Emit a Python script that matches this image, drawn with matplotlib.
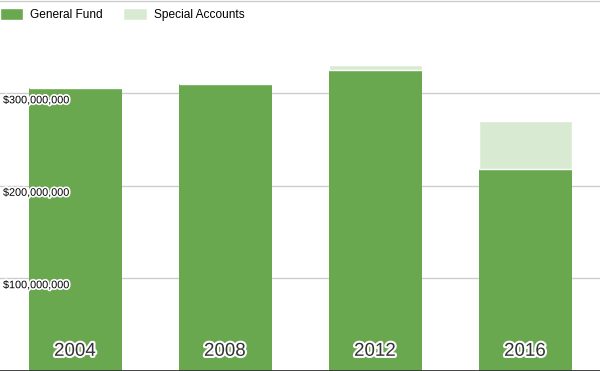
import matplotlib.pyplot as plt
import matplotlib.patheffects as pe
from matplotlib.transforms import blended_transform_factory
from matplotlib.patches import Patch

plt.rcParams['font.family'] = ['Liberation Sans', 'DejaVu Sans']

# budget by year (dollars)
years = ["2004", "2008", "2012", "2016"]
general_fund = [306e6, 310e6, 325e6, 218e6]
special_accounts = [0, 0, 6e6, 52e6]
tick_values = [100e6, 200e6, 300e6]
tick_labels = ["$100,000,000", "$200,000,000", "$300,000,000"]

green = "#6aa84f"
light_green = "#d9ead3"

fig = plt.figure(figsize=(6, 3.71), dpi=100)
ax = fig.add_axes([0, 0, 1, 1])

x = list(range(len(years)))
ax.bar(x, general_fund, width=0.62, color=green, zorder=2)
ax.bar(x, special_accounts, width=0.62, bottom=general_fund, color=light_green,
       edgecolor="white", linewidth=1, zorder=2)

# gridlines
for v in tick_values + [400e6]:
    ax.axhline(v, color="#cccccc", lw=1, zorder=1)
ax.axhline(0, color="#333333", lw=2, zorder=3)

ax.set_xlim(-0.5, 3.5)
ax.set_ylim(-0.3e6, 401e6)
ax.axis("off")

# y labels drawn inside the plot, just under each gridline
trans = blended_transform_factory(ax.transAxes, ax.transData)
stroke = [pe.withStroke(linewidth=2.5, foreground="white")]
for v, lab in zip(tick_values, tick_labels):
    ax.text(0.005, v - 7.5e6, lab, transform=trans, fontsize=7.8, color="black",
            ha="left", va="center", path_effects=stroke, zorder=4)

# year labels at the bottom of the bars
trans2 = blended_transform_factory(ax.transData, ax.transAxes)
for i, yr in enumerate(years):
    ax.text(i, 0.053, yr, transform=trans2, fontsize=13.5, color="#333333",
            ha="center", va="center",
            path_effects=[pe.withStroke(linewidth=3, foreground="white")], zorder=4)

handles = [Patch(facecolor=green, edgecolor="white", label="General Fund"),
           Patch(facecolor=light_green, edgecolor="white", label="Special Accounts")]
ax.legend(handles=handles, loc="upper left", bbox_to_anchor=(0, 0.978), ncol=2,
          frameon=False, fontsize=8.6, handlelength=1.95, handleheight=1.15,
          handletextpad=0.6, columnspacing=1.7, borderaxespad=0, borderpad=0)

fig.savefig("out.png", dpi=100)
